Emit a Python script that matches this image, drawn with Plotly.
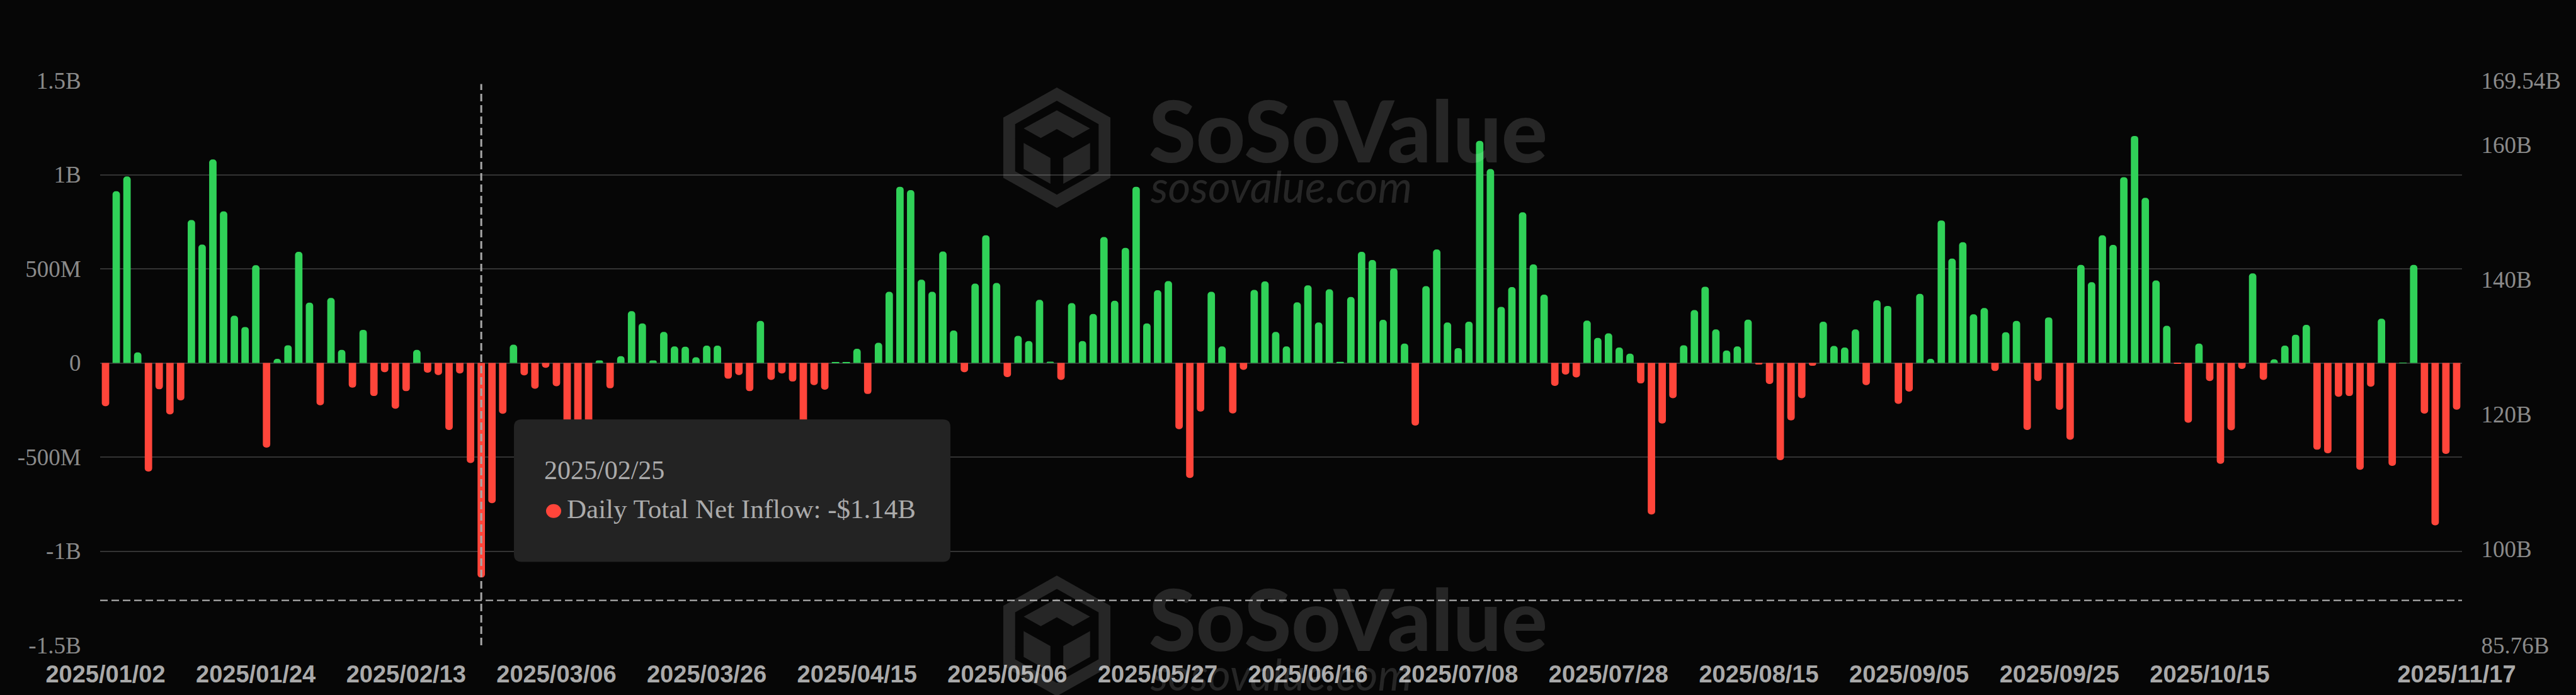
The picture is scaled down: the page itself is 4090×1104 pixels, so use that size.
import plotly.graph_objects as go
import pandas as pd

# ---------------- data ----------------
HOLIDAYS = ["2025-01-09", "2025-01-20", "2025-02-17", "2025-04-18",
            "2025-05-26", "2025-06-19", "2025-07-04", "2025-09-01"]
DATES = [d.strftime("%Y-%m-%d") for d in pd.bdate_range("2025-01-02", "2025-11-17")
         if d.strftime("%Y-%m-%d") not in HOLIDAYS]

# Daily total net inflow, millions USD (one per trading day)
NET_INFLOW_M = [
    -230, 912, 991, 56, -577, -140, -273, -199, 759, 629,
    1081, 805, 251, 191, 519, -450, 22, 94, 590, 320,
    -225, 345, 69, -131, 176, -176, -49, -243, -150, 69,
    -52, -64, -356, -56, -532, -1140, -745, -270, 97, -66,
    -137, -26, -124, -409, -370, -371, 13, -135, 36, 275,
    210, 13, 165, 88, 86, 30, 92, 92, -84, -64,
    -150, 223, -90, -56, -99, -326, -118, -142, 2, 2,
    75, -165, 107, 378, 936, 918, 442, 378, 592, 172,
    -49, 421, 678, 425, -75, 144, 116, 335, 7, -90,
    318, 116, 260, 669, 330, 611, 936, 210, 386, 435,
    -352, -611, -258, 378, 88, -268, -37, 388, 433, 165,
    88, 322, 412, 215, 391, 6, 350, 590, 547, 229,
    502, 103, -333, 408, 603, 215, 79, 219, 1180, 1030,
    298, 403, 800, 523, 363, -122, -62, -77, 225, 133,
    157, 82, 49, -109, -805, -322, -187, 94, 281, 405,
    178, 66, 88, 230, -8, -112, -517, -305, -187, -15,
    219, 90, 82, 178, -118, 333, 303, -217, -152, 367,
    22, 757, 554, 641, 258, 292, -43, 163, 223, -356,
    -96, 242, -249, -408, 521, 429, 678, 627, 987, 1206,
    877, 438, 197, -4, -318, 103, -96, -536, -358, -32,
    476, -90, 19, 92, 150, 202, -461, -480, -180, -176,
    -568, -126, 235, -547, 1, 521, -269, -863, -483, -248,
]

X_TICK_LABELS = ["2025/01/02", "2025/01/24", "2025/02/13", "2025/03/06", "2025/03/26",
                 "2025/04/15", "2025/05/06", "2025/05/27", "2025/06/16", "2025/07/08",
                 "2025/07/28", "2025/08/15", "2025/09/05", "2025/09/25", "2025/10/15",
                 "2025/11/17"]
Y_TICK_VALUES = [1.5e9, 1e9, 5e8, 0, -5e8, -1e9, -1.5e9]
Y_TICK_LABELS = ["1.5B", "1B", "500M", "0", "-500M", "-1B", "-1.5B"]
Y2_TICK_VALUES = [169.54e9, 160e9, 140e9, 120e9, 100e9, 85.76e9]
Y2_TICK_LABELS = ["169.54B", "160B", "140B", "120B", "100B", "85.76B"]
HOVER_DATE = "2025-02-25"
CROSSHAIR_Y = -1.262e9
SERIES_NAME = "Daily Total Net Inflow"

# ---------------- styling ----------------
W, H = 4090, 1104
PL, PR, PT, PB = 159, 3909, 128, 1028
BG = "#060606"
GREEN = "#30d158"
RED = "#ff453a"
GRID = "#333333"
WM = "rgba(255,255,255,0.13)"


def px(x):
    return (x - PL) / (PR - PL)


def py(y):
    return (PB - y) / (PB - PT)


def P(x, y):
    return f"{px(x):.6f},{py(y):.6f}"


values = [v * 1e6 for v in NET_INFLOW_M]
colors = [GREEN if v >= 0 else RED for v in values]

fig = go.Figure()
fig.add_trace(go.Bar(x=DATES, y=values, marker=dict(color=colors, line=dict(width=0)),
                     name=SERIES_NAME, showlegend=False))
fig.add_trace(go.Scatter(x=[], y=[], yaxis="y2", showlegend=False))

shapes = []
annotations = []

# crosshair lines
shapes.append(dict(type="line", xref="x", yref="paper", x0=HOVER_DATE, x1=HOVER_DATE,
                   y0=0, y1=0.994, line=dict(color="#a8a8a8", width=3, dash="12px,6px"),
                   layer="above"))
shapes.append(dict(type="line", xref="paper", yref="y", x0=0, x1=1,
                   y0=CROSSHAIR_Y, y1=CROSSHAIR_Y,
                   line=dict(color="#9a9a9a", width=2.5, dash="12px,6px"), layer="above"))


# watermark (logo + text), two copies
def hexpts(cx, cy, hw, hh, s):
    pts = [(0, -1), (1, -0.5), (1, 0.5), (0, 1), (-1, 0.5), (-1, -0.5)]
    return [(cx + u * hw * s, cy + v * hh * s) for u, v in pts]


def poly(points):
    return "M " + " L ".join(P(x, y) for x, y in points) + " Z"


def add_watermark(dy):
    cx, cy, hw, hh = 1678, 235 + dy, 85, 96
    parts = [hexpts(cx, cy, hw, hh, 1.0), hexpts(cx, cy, hw, hh, 0.78)]
    local = [
        [(-0.62, -0.32), (0, -0.62), (0.62, -0.32), (0.3, -0.16), (0, -0.31), (-0.3, -0.16)],
        [(-0.62, -0.08), (-0.12, 0.17), (-0.12, 0.6), (-0.62, 0.35)],
        [(0.12, 0.17), (0.62, -0.08), (0.62, 0.35), (0.12, 0.6)],
    ]
    for pl in local:
        parts.append([(cx + u * hw, cy + v * hh) for u, v in pl])
    path = " ".join(poly(p) for p in parts)
    shapes.append(dict(type="path", xref="paper", yref="paper", path=path,
                       fillcolor=WM, line=dict(width=0), layer="above", fillrule="evenodd"))
    annotations.append(dict(xref="paper", yref="paper", x=px(1822), y=py(206 + dy),
                            xanchor="left", yanchor="middle", showarrow=False,
                            text="SoSoValue",
                            font=dict(family="Lato", size=136, color=WM, weight=900)))
    annotations.append(dict(xref="paper", yref="paper", x=px(1824), y=py(296 + dy),
                            xanchor="left", yanchor="middle", showarrow=False,
                            text="sosovalue.com",
                            font=dict(family="Lato", size=69, color=WM, style="italic")))


add_watermark(0)
add_watermark(778)

# tooltip box
x0, y0, x1, y1, r = 816, 668, 1509, 895, 12
tip = (f"M {P(x0 + r, y0)} L {P(x1 - r, y0)} Q {P(x1, y0)} {P(x1, y0 + r)} "
       f"L {P(x1, y1 - r)} Q {P(x1, y1)} {P(x1 - r, y1)} L {P(x0 + r, y1)} "
       f"Q {P(x0, y1)} {P(x0, y1 - r)} L {P(x0, y0 + r)} Q {P(x0, y0)} {P(x0 + r, y0)} Z")
shapes.append(dict(type="path", xref="paper", yref="paper", path=tip,
                   fillcolor="#232323", line=dict(width=0), layer="above"))
shapes.append(dict(type="circle", xref="paper", yref="paper",
                   x0=px(867), x1=px(891), y0=py(825), y1=py(803),
                   fillcolor=RED, line=dict(width=0), layer="above"))

hi = DATES.index(HOVER_DATE)
hv = values[hi]
val_txt = f"{'-' if hv < 0 else ''}${abs(hv) / 1e9:.2f}B"
annotations.append(dict(xref="paper", yref="paper", x=px(862), y=py(749),
                        xanchor="left", yanchor="middle", showarrow=False,
                        text=HOVER_DATE.replace("-", "/"),
                        font=dict(family="Liberation Serif", size=42, color="#ababab")))
annotations.append(dict(xref="paper", yref="paper", x=px(898), y=py(811),
                        xanchor="left", yanchor="middle", showarrow=False,
                        text=f"{SERIES_NAME}: {val_txt}",
                        font=dict(family="Liberation Serif", size=43, color="#ababab")))

tickvals_x = [t.replace("/", "-") for t in X_TICK_LABELS]

fig.update_layout(
    width=W, height=H,
    margin=dict(l=PL, r=W - PR, t=PT, b=H - PB, pad=0),
    paper_bgcolor=BG, plot_bgcolor=BG,
    bargap=0.31, barcornerradius=6,
    font=dict(family="Liberation Serif", color="#8a8a8a"),
    xaxis=dict(type="category", categoryorder="array", categoryarray=DATES,
               range=[-0.5, len(DATES) - 0.5],
               tickmode="array", tickvals=tickvals_x, ticktext=X_TICK_LABELS,
               showgrid=False, zeroline=False, showline=False,
               ticks="outside", ticklen=12, tickcolor="rgba(0,0,0,0)",
               tickfont=dict(family="Liberation Sans", size=38, color="#a9a9a9", weight="bold"),
               tickangle=0),
    yaxis=dict(range=[-1.5e9, 1.5e9], tickmode="array", tickvals=Y_TICK_VALUES,
               ticktext=Y_TICK_LABELS, showgrid=True, gridcolor=GRID, gridwidth=2,
               zeroline=False, showline=False, ticks="outside", ticklen=22,
               tickcolor="rgba(0,0,0,0)",
               tickfont=dict(family="Liberation Serif", size=37, color="#8a8a8a")),
    yaxis2=dict(overlaying="y", side="right", range=[85.76e9, 169.54e9],
                tickmode="array", tickvals=Y2_TICK_VALUES, ticktext=Y2_TICK_LABELS,
                showgrid=False, zeroline=False, showline=False, ticks="outside",
                ticklen=22, tickcolor="rgba(0,0,0,0)",
                tickfont=dict(family="Liberation Serif", size=37, color="#8a8a8a")),
    shapes=shapes, annotations=annotations,
    hovermode=False, showlegend=False,
)

fig.write_html("out.html", config={"displayModeBar": False},
               post_script="document.body.style.margin='0';document.body.style.overflow='hidden';")
